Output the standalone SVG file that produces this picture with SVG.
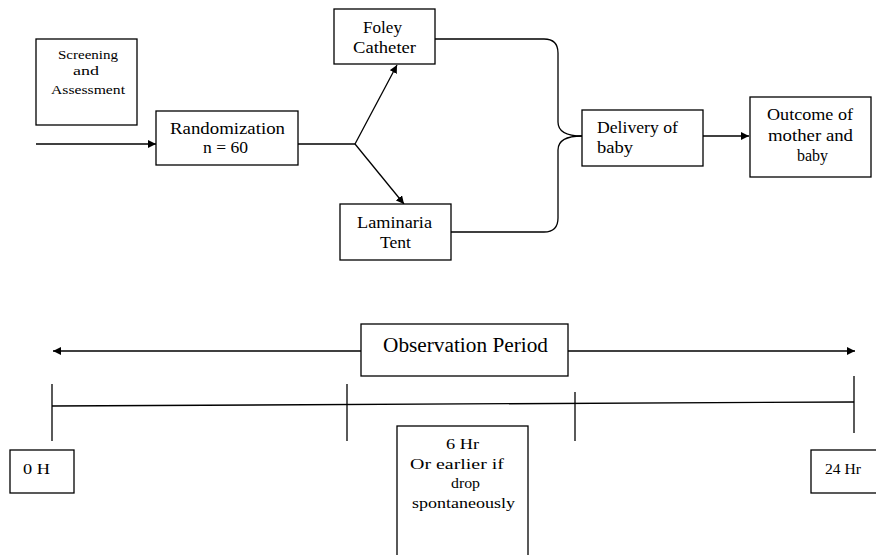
<svg xmlns="http://www.w3.org/2000/svg" width="876" height="555" viewBox="0 0 876 555">
<style>
.box{fill:#fff;stroke:#000;stroke-width:1.3}
.ln{fill:none;stroke:#000;stroke-width:1.3}
.t{font-family:"Times New Roman","Liberation Serif","DejaVu Serif","Noto Serif",Times,serif;font-size:17px;fill:#000}
.s{font-size:12.5px}
.m{font-size:15px}
.c{text-anchor:middle}
</style>
<defs>
<marker id="ah" viewBox="0 0 10 10" refX="10" refY="5" markerWidth="8" markerHeight="8" markerUnits="userSpaceOnUse" orient="auto">
<path d="M0,0 L10,5 L0,10 z" fill="#000"/>
</marker>
</defs>
<rect width="876" height="555" fill="#fff"/>
<g id="connectors">
<line class="ln" x1="36" y1="144" x2="156" y2="144" marker-end="url(#ah)"/>
<polyline class="ln" points="298,144 355,144"/>
<line class="ln" x1="355" y1="144" x2="397" y2="65" marker-end="url(#ah)"/>
<line class="ln" x1="355" y1="144" x2="404" y2="204" marker-end="url(#ah)"/>
<path class="ln" d="M435,39 H544 Q558,39 558,53 V122 Q558,136 582,136"/>
<path class="ln" d="M451,232 H544 Q558,232 558,218 V150 Q558,136 582,136"/>
<line class="ln" x1="703" y1="136" x2="749" y2="136" marker-end="url(#ah)"/>
<line class="ln" x1="361" y1="351" x2="53" y2="351" marker-end="url(#ah)"/>
<line class="ln" x1="568" y1="351" x2="855" y2="351" marker-end="url(#ah)"/>
<line class="ln" x1="52" y1="406" x2="854" y2="402"/>
<line class="ln" x1="52" y1="384" x2="52" y2="441"/>
<line class="ln" x1="347" y1="384" x2="347" y2="441"/>
<line class="ln" x1="575" y1="392" x2="575" y2="441"/>
<line class="ln" x1="854" y1="376" x2="854" y2="433"/>
</g>
<g id="screening">
<rect class="box" x="36" y="39" width="101" height="86"/>
<text class="t s" x="58" y="59" textLength="60" lengthAdjust="spacingAndGlyphs">Screening</text>
<text class="t s" x="73" y="75" textLength="26" lengthAdjust="spacingAndGlyphs">and</text>
<text class="t s" x="51" y="94" textLength="74" lengthAdjust="spacingAndGlyphs">Assessment</text>
</g>
<g id="randomization">
<rect class="box" x="156" y="111" width="142" height="54"/>
<text class="t" x="170" y="134" textLength="115" lengthAdjust="spacingAndGlyphs">Randomization</text>
<text class="t" x="203" y="153" textLength="45" lengthAdjust="spacingAndGlyphs">n = 60</text>
</g>
<g id="foley">
<rect class="box" x="334" y="9" width="101" height="55"/>
<text class="t" x="363" y="33" textLength="39" lengthAdjust="spacingAndGlyphs">Foley</text>
<text class="t" x="353" y="53" textLength="63" lengthAdjust="spacingAndGlyphs">Catheter</text>
</g>
<g id="laminaria">
<rect class="box" x="340" y="204" width="111" height="56"/>
<text class="t" x="357" y="228" textLength="75" lengthAdjust="spacingAndGlyphs">Laminaria</text>
<text class="t" x="380" y="248" textLength="31" lengthAdjust="spacingAndGlyphs">Tent</text>
</g>
<g id="delivery">
<rect class="box" x="582" y="110" width="121" height="56"/>
<text class="t" x="597" y="133" textLength="81" lengthAdjust="spacingAndGlyphs">Delivery of</text>
<text class="t" x="597" y="153" textLength="36" lengthAdjust="spacingAndGlyphs">baby</text>
</g>
<g id="outcome">
<rect class="box" x="750" y="97" width="121" height="80"/>
<text class="t" x="767" y="120" textLength="86" lengthAdjust="spacingAndGlyphs">Outcome of</text>
<text class="t" x="768" y="141" textLength="85" lengthAdjust="spacingAndGlyphs">mother and</text>
<text class="t" x="797" y="161" textLength="31" lengthAdjust="spacingAndGlyphs">baby</text>
</g>
<g id="observation">
<rect class="box" x="361" y="324" width="207" height="52"/>
<text class="t" x="383" y="352" style="font-size:20px" textLength="165" lengthAdjust="spacingAndGlyphs">Observation Period</text>
</g>
<g id="h0">
<rect class="box" x="10" y="450" width="64" height="43"/>
<text class="t m" x="23" y="474" textLength="27" lengthAdjust="spacingAndGlyphs">0 H</text>
</g>
<g id="h6">
<rect class="box" x="397" y="426" width="131" height="135"/>
<text class="t m" x="446" y="449" textLength="33" lengthAdjust="spacingAndGlyphs">6 Hr</text>
<text class="t m" x="410" y="469" textLength="94" lengthAdjust="spacingAndGlyphs">Or earlier if</text>
<text class="t m" x="451" y="488" textLength="29" lengthAdjust="spacingAndGlyphs">drop</text>
<text class="t m" x="412" y="508" textLength="103" lengthAdjust="spacingAndGlyphs">spontaneously</text>
</g>
<g id="h24">
<rect class="box" x="811" y="450" width="70" height="43"/>
<text class="t m" x="825" y="474" textLength="36" lengthAdjust="spacingAndGlyphs">24 Hr</text>
</g>
</svg>
